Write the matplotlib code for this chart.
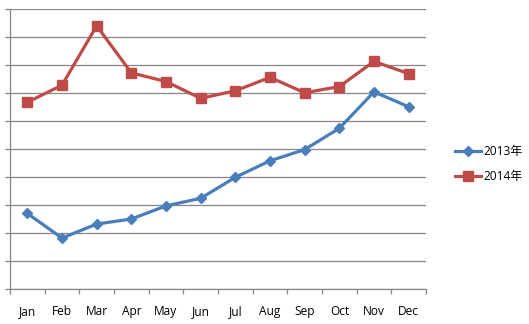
import matplotlib.pyplot as plt
import numpy as np

plt.rcParams['font.family'] = ['Open Sans', 'Noto Sans CJK SC', 'DejaVu Sans']

months = ['Jan', 'Feb', 'Mar', 'Apr', 'May', 'Jun',
          'Jul', 'Aug', 'Sep', 'Oct', 'Nov', 'Dec']
series_2013 = [2.71, 1.83, 2.33, 2.51, 2.98, 3.25, 4.0, 4.59, 4.99, 5.75, 7.05, 6.52]
series_2014 = [6.68, 7.29, 9.41, 7.73, 7.42, 6.82, 7.09, 7.57, 7.02, 7.24, 8.14, 7.70]

fig = plt.figure(figsize=(5.29, 3.24), dpi=100)
ax = fig.add_axes([10 / 529, 1 - 289.3 / 324, 416 / 529, 280 / 324])

x = np.arange(len(months))
ax.plot(x, series_2013, color='#4A7EBB', lw=2.3, marker='D', ms=5.5,
        label='2013年', zorder=3)
ax.plot(x, series_2014, color='#BE4B48', lw=2.3, marker='s', ms=7,
        label='2014年', zorder=3)

# gridlines and axes
ax.set_ylim(0, 10)
ax.set_yticks(np.arange(0, 11, 1))
ax.set_yticklabels([])
ax.yaxis.grid(True, color='#868686', lw=0.9)
ax.set_axisbelow(True)

ax.set_xlim(-0.5, 11.5)
ax.set_xticks(np.arange(-0.5, 12, 1))
ax.set_xticklabels([])
ax.set_xticks(x, minor=True)
ax.set_xticklabels(months, minor=True, fontsize=8.6)
ax.tick_params(axis='x', which='minor', length=0, pad=11)
ax.tick_params(axis='both', which='major', length=3.5, width=0.9,
               color='#868686', direction='out')

for side in ['top', 'right']:
    ax.spines[side].set_visible(False)
for side in ['left', 'bottom']:
    ax.spines[side].set_color('#868686')
    ax.spines[side].set_linewidth(0.9)

fig.legend(loc='center left', bbox_to_anchor=(444 / 529, 1 - 164 / 324),
           frameon=False, fontsize=8.6, handlelength=2.2, handletextpad=0.2,
           labelspacing=1.0)

fig.savefig('out.png', dpi=100)
